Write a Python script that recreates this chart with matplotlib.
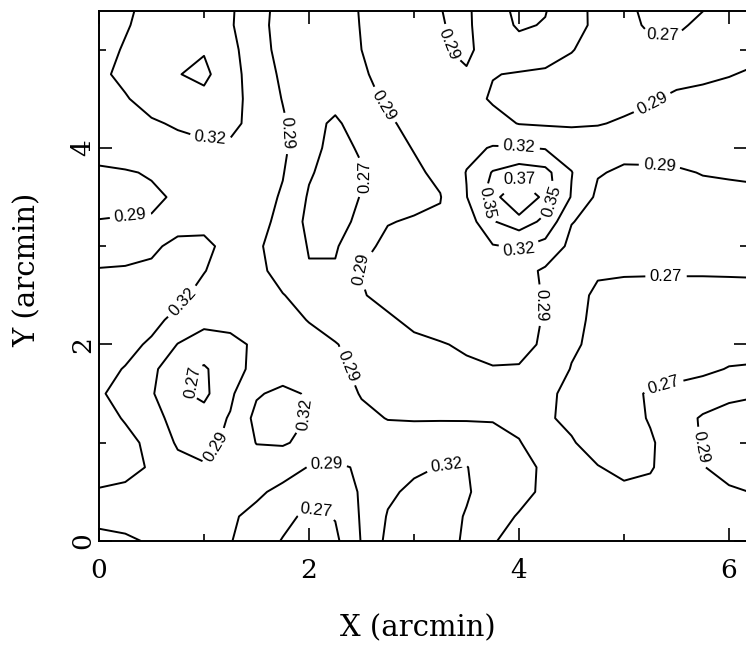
import numpy as np
import matplotlib.pyplot as plt

# grid nodes in arcmin
x_nodes = np.arange(26) * 0.25
y_nodes = np.arange(23) * 0.25

# map values (x 1000), one row per y node, listed from y = 5.5 down to y = 0
map_rows = [
    [308, 315, 326, 330, 330, 324, 302, 280, 278, 279, 292, 300, 300, 290, 286, 308, 330, 324, 299, 284, 275, 262, 262, 266, 278, 280],
    [310, 318, 328, 335, 333, 323, 300, 279, 278, 279, 291, 300, 300, 291, 286, 305, 324, 318, 298, 285, 278, 266, 266, 275, 280, 282],
    [312, 322, 335, 346, 348, 328, 303, 280, 276, 278, 290, 302, 303, 292, 286, 300, 308, 305, 291, 282, 279, 276, 276, 280, 283, 284],
    [315, 326, 340, 349, 356, 333, 303, 286, 278, 276, 285, 303, 304, 297, 292, 291, 288, 285, 283, 282, 281, 282, 283, 285, 289, 293],
    [313, 318, 330, 340, 343, 332, 307, 289, 279, 274, 281, 294, 303, 304, 300, 287, 284, 283, 283, 284, 285, 288, 294, 297, 298, 299],
    [310, 314, 317, 323, 328, 326, 312, 293, 274, 268, 276, 287, 296, 303, 306, 299, 289, 287, 287, 289, 292, 296, 299, 300, 300, 300],
    [300, 304, 308, 312, 315, 316, 309, 293, 278, 262, 273, 282, 291, 303, 313, 322, 322, 318, 306, 300, 298, 299, 300, 300, 299, 298],
    [286, 288, 292, 300, 305, 306, 303, 291, 272, 262, 268, 280, 286, 295, 321, 352, 365, 359, 321, 292, 286, 286, 287, 291, 292, 293],
    [281, 283, 286, 293, 300, 302, 298, 288, 268, 260, 271, 279, 284, 289, 319, 365, 383, 366, 318, 284, 282, 281, 281, 283, 285, 286],
    [291, 292, 292, 305, 310, 305, 296, 285, 265, 258, 278, 289, 292, 293, 303, 348, 365, 343, 291, 282, 280, 279, 279, 280, 282, 283],
    [305, 308, 313, 330, 328, 309, 293, 281, 269, 268, 284, 295, 300, 304, 308, 318, 323, 310, 283, 278, 277, 276, 276, 277, 278, 279],
    [322, 323, 327, 330, 321, 308, 297, 280, 271, 272, 291, 299, 303, 305, 306, 305, 300, 286, 279, 272, 272, 272, 272, 272, 272, 272],
    [330, 332, 332, 326, 312, 305, 300, 291, 280, 279, 288, 298, 304, 307, 308, 306, 300, 288, 276, 267, 264, 263, 263, 263, 264, 265],
    [332, 332, 326, 314, 296, 298, 302, 298, 289, 282, 280, 286, 296, 303, 306, 305, 300, 288, 276, 265, 262, 261, 261, 262, 263, 264],
    [330, 326, 317, 289, 280, 283, 294, 300, 298, 291, 283, 281, 284, 288, 294, 296, 294, 288, 273, 265, 261, 260, 260, 261, 262, 263],
    [326, 319, 295, 275, 268, 280, 297, 305, 303, 295, 285, 279, 279, 281, 285, 289, 289, 284, 269, 262, 258, 259, 263, 266, 271, 272],
    [323, 311, 292, 273, 266, 285, 317, 327, 317, 305, 288, 279, 278, 278, 279, 280, 280, 275, 264, 258, 262, 273, 276, 280, 285, 288],
    [330, 318, 298, 282, 277, 292, 328, 334, 318, 306, 297, 289, 288, 288, 288, 288, 285, 273, 265, 258, 260, 272, 282, 292, 298, 300],
    [334, 327, 314, 286, 283, 295, 321, 323, 312, 306, 305, 303, 304, 306, 305, 300, 291, 280, 272, 260, 256, 267, 283, 291, 300, 304],
    [330, 326, 318, 300, 292, 302, 305, 300, 289, 286, 293, 306, 315, 321, 321, 305, 298, 286, 277, 271, 264, 268, 282, 289, 298, 302],
    [318, 316, 311, 306, 303, 300, 294, 284, 278, 279, 292, 315, 326, 330, 323, 306, 298, 285, 280, 277, 275, 276, 279, 283, 287, 291],
    [314, 313, 310, 306, 301, 293, 284, 275, 266, 271, 292, 322, 330, 332, 318, 300, 288, 282, 280, 278, 277, 277, 278, 280, 282, 284],
    [326, 323, 318, 310, 302, 291, 279, 269, 262, 266, 291, 327, 333, 334, 315, 292, 280, 279, 278, 278, 278, 278, 279, 280, 281, 283],
]
levels = [0.27, 0.29, 0.32, 0.35, 0.37]

# where the level labels sit on the lines
label_spots = [
    (1.06, 4.15), (1.82, 4.15), (2.55, 3.7), (2.72, 4.44), (3.31, 5.05),
    (5.37, 5.18), (5.28, 4.44), (4.0, 4.0), (4.0, 3.68), (3.72, 3.45),
    (4.33, 3.45), (4.0, 2.97), (5.34, 3.86), (4.22, 2.40), (2.5, 2.76),
    (0.3, 3.3), (0.82, 2.41), (2.34, 1.77), (0.93, 1.6), (1.18, 0.9),
    (1.94, 1.28), (2.17, 0.79), (2.06, 0.3), (3.31, 0.76), (5.4, 2.68),
    (5.37, 1.6), (5.72, 0.95),
]

z = np.array(map_rows[::-1]) / 1000.0

fig = plt.figure(figsize=(7.46, 6.45), dpi=100)
ax = fig.add_axes([99 / 746, 104 / 645, 648 / 746, 530 / 645])

cs = ax.contour(x_nodes, y_nodes, z, levels=levels, colors='black', linewidths=1.4)
labels = ax.clabel(cs, fmt='%.2f', fontsize=12, inline=True, inline_spacing=2,
                   manual=label_spots)
for t in labels:
    t.set_family('Liberation Sans')

ax.set_xlim(0, 6.171)
ax.set_ylim(0, 5.394)

ax.set_xticks([0, 2, 4, 6])
ax.set_xticks([1, 3, 5], minor=True)
ax.set_yticks([0, 2, 4])
ax.set_yticks([1, 3, 5], minor=True)
ax.tick_params(which='both', direction='in', top=True, right=True, width=1.2)
ax.tick_params(which='major', length=9.5)
ax.tick_params(which='minor', length=5)
ax.tick_params(axis='x', labelsize=19, pad=12)
ax.tick_params(axis='y', labelsize=19, pad=3, labelrotation=90)
for lbl in ax.get_xticklabels() + ax.get_yticklabels():
    lbl.set_family('DejaVu Serif')
for lbl in ax.get_yticklabels():
    lbl.set_va('center')
for sp in ax.spines.values():
    sp.set_linewidth(1.4)

ax.set_xlabel('X (arcmin)', fontsize=21, family='DejaVu Serif')
ax.set_ylabel('Y (arcmin)', fontsize=21, family='DejaVu Serif')
ax.xaxis.label.set_va('center')
ax.yaxis.label.set_va('center')
ax.xaxis.set_label_coords((418 - 99) / 648, -(628 - 541) / 530)
ax.yaxis.set_label_coords((28 - 99) / 648, (541 - 270) / 530)

fig.savefig('out.png', dpi=100)
